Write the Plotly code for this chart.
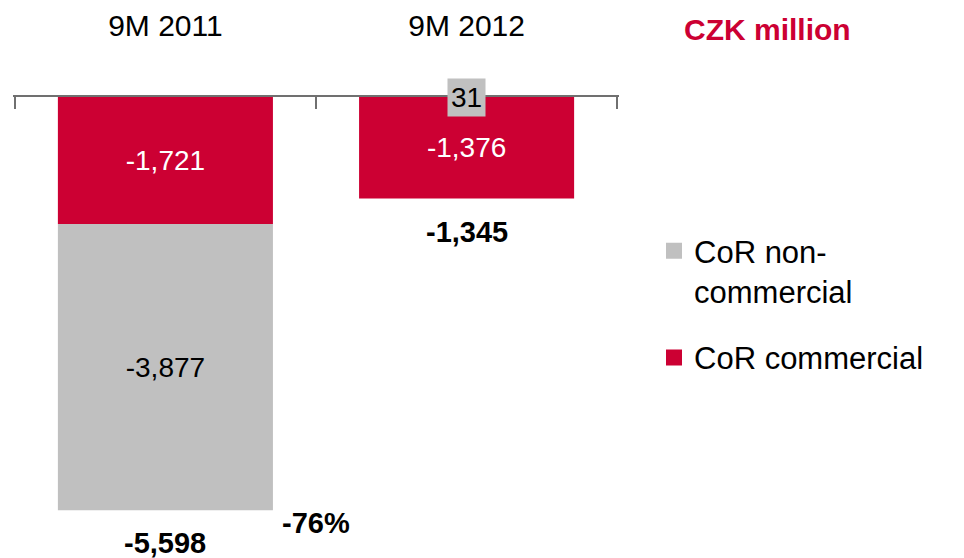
import plotly.graph_objects as go

categories = ["9M 2011", "9M 2012"]
cor_commercial = [-1721, -1376]
cor_noncommercial = [-3877, 31]
series_names = ["CoR commercial", "CoR non-<br>commercial"]
unit_label = "CZK million"

RED = "#CC0033"
GRAY = "#C0C0C0"
FONT = "Liberation Sans, Arial, sans-serif"

def fmt(v):
    return f"{v:,.0f}"

totals = [a + b for a, b in zip(cor_commercial, cor_noncommercial)]
neg_bottom = [min(a, 0) + min(b, 0) for a, b in zip(cor_commercial, cor_noncommercial)]
change_pct = (totals[1] / totals[0] - 1) * 100

fig = go.Figure()
fig.add_trace(go.Bar(
    x=categories, y=cor_commercial, name=series_names[0],
    marker=dict(color=RED, line=dict(width=0)),
    text=[fmt(v) for v in cor_commercial],
    textposition="inside", insidetextanchor="middle",
    textfont=dict(color="white", size=28, family=FONT),
    width=0.714, showlegend=False,
))
fig.add_trace(go.Bar(
    x=categories, y=cor_noncommercial, name=series_names[1],
    marker=dict(color=GRAY, line=dict(width=0)),
    text=[fmt(v) if v < 0 else "" for v in cor_noncommercial],
    textposition=["inside" if v < 0 else "none" for v in cor_noncommercial],
    insidetextanchor="middle",
    textfont=dict(color="black", size=28, family=FONT),
    width=0.714, showlegend=False,
))
# legend entries (larger square swatches), non-commercial first
for rank, (name, col, grp) in enumerate([(series_names[1], GRAY, "g1"), (series_names[0], RED, "g2")]):
    fig.add_trace(go.Scatter(
        x=[None], y=[None], mode="markers", name=name, legendgroup=grp,
        legendrank=rank + 1,
        marker=dict(symbol="square", size=16, color=col, line=dict(width=0)),
        hoverinfo="skip",
    ))
# boundary tick marks on an overlaid linear axis
fig.add_trace(go.Scatter(x=[None], y=[None], xaxis="x2", yaxis="y",
                         mode="markers", showlegend=False, hoverinfo="skip"))

EPS = 0.006
W, H = 964, 558
ml, mr, mt, mb = 13, 345, 97, 18
pw, ph = W - ml - mr, H - mt - mb
xr = [-0.5 - EPS, len(categories) - 0.5 + EPS]

annotations = []
for c, v in zip(categories, cor_noncommercial):
    if v > 0:
        annotations.append(dict(
            x=c, y=0, xref="x", yref="y", text=fmt(v), showarrow=False,
            font=dict(size=28, color="black", family=FONT),
            bgcolor=GRAY, borderpad=3, yanchor="middle", xanchor="center",
        ))
for c, t, b in zip(categories, totals, neg_bottom):
    annotations.append(dict(
        x=c, y=b, xref="x", yref="y", text=f"<b>{fmt(t)}</b>", showarrow=False,
        font=dict(size=29, color="black", family=FONT),
        yanchor="middle", xanchor="center", yshift=-33,
    ))
annotations.append(dict(
    x=0.5, y=totals[0], xref="x", yref="y", text=f"<b>{change_pct:.0f}%</b>",
    showarrow=False, font=dict(size=29, color="black", family=FONT),
    yanchor="middle", xanchor="center", yshift=-13,
))
annotations.append(dict(
    x=(767 - ml) / pw, y=(H - mb - 29) / ph, xref="paper", yref="paper",
    text=f"<b>{unit_label}</b>", showarrow=False,
    xanchor="center", yanchor="middle",
    font=dict(size=30, color=RED, family=FONT),
))

fig.update_layout(
    width=W, height=H,
    margin=dict(l=ml, r=mr, t=mt, b=mb, autoexpand=False),
    barmode="relative",
    plot_bgcolor="white", paper_bgcolor="white",
    font=dict(family=FONT, color="black"),
    showlegend=True,
    legend=dict(
        x=(654 - ml) / pw, y=0.713, xanchor="left", yanchor="top",
        font=dict(size=31, family=FONT, color="black"),
        traceorder="grouped", tracegroupgap=23, valign="top",
        itemsizing="trace",
        bgcolor="rgba(0,0,0,0)",
    ),
    annotations=annotations,
    xaxis=dict(
        side="top", type="category", range=xr,
        showline=True, linecolor="#707070", linewidth=1.5,
        ticks="", tickfont=dict(size=30, family=FONT, color="black"),
        ticklabelstandoff=47, showgrid=False, zeroline=False,
    ),
    xaxis2=dict(
        overlaying="x", side="top", anchor="y", type="linear",
        range=xr, tickmode="array",
        tickvals=[i - 0.5 for i in range(len(categories) + 1)],
        ticks="inside", ticklen=12, tickcolor="#707070", tickwidth=1.5,
        showticklabels=False, showline=False, showgrid=False, zeroline=False,
    ),
    yaxis=dict(range=[-6000, 0], visible=False, showgrid=False, zeroline=False),
)

fig.write_html(
    "out.html",
    config={"displayModeBar": False},
    post_script="document.body.style.margin='0';document.body.style.overflow='hidden';",
)
